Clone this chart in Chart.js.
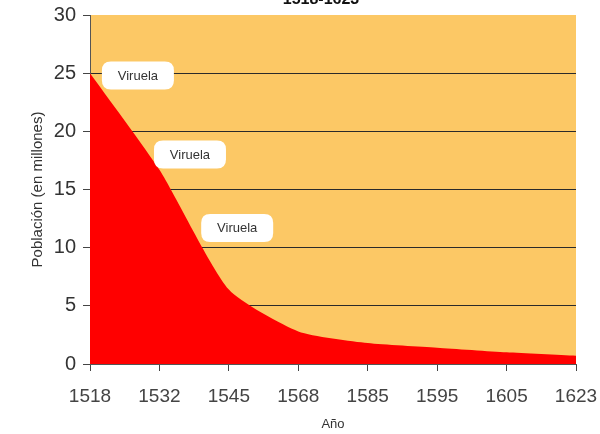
<!DOCTYPE html>
<html>
<head>
<meta charset="utf-8">
<script src="https://cdn.jsdelivr.net/npm/chart.js@4/dist/chart.umd.min.js"></script>
<style>
html,body{margin:0;padding:0;background:#fff;}
#wrap{width:600px;height:434px;position:relative;}
</style>
</head>
<body>
<div id="wrap"><canvas id="c" width="600" height="434"></canvas></div>
<script>
const years = ['1518','1532','1545','1568','1585','1595','1605','1623'];
const population = [25, 16.7, 6.4, 2.8, 1.8, 1.4, 1.0, 0.7];
const yTicks = [0, 5, 10, 15, 20, 25, 30];
const noteTexts = ['Viruela', 'Viruela', 'Viruela'];
const noteYearIndex = [0.69, 1.44, 2.12];
const noteValues = [24.8, 18.0, 11.7];
const titleText = '1518-1623';

const bgPlugin = {
  id: 'bg',
  beforeDraw(chart) {
    const {ctx, chartArea: a} = chart;
    ctx.save();
    ctx.fillStyle = '#FCC865';
    ctx.fillRect(a.left, a.top, a.right - a.left, a.bottom - a.top);
    ctx.restore();
  }
};

function roundRect(ctx, x, y, w, h, r) {
  ctx.beginPath();
  ctx.moveTo(x + r, y);
  ctx.lineTo(x + w - r, y);
  ctx.quadraticCurveTo(x + w, y, x + w, y + r);
  ctx.lineTo(x + w, y + h - r);
  ctx.quadraticCurveTo(x + w, y + h, x + w - r, y + h);
  ctx.lineTo(x + r, y + h);
  ctx.quadraticCurveTo(x, y + h, x, y + h - r);
  ctx.lineTo(x, y + r);
  ctx.quadraticCurveTo(x, y, x + r, y);
  ctx.closePath();
}

const notePlugin = {
  id: 'notes',
  afterDraw(chart) {
    const {ctx} = chart;
    const xs = chart.scales.x, ys = chart.scales.y;
    ctx.save();
    ctx.font = '13px "Liberation Sans", Arial, sans-serif';
    noteTexts.forEach((t, i) => {
      const p0 = xs.getPixelForValue(Math.floor(noteYearIndex[i]));
      const p1 = xs.getPixelForValue(Math.floor(noteYearIndex[i]) + 1);
      const cx = p0 + (p1 - p0) * (noteYearIndex[i] - Math.floor(noteYearIndex[i]));
      const cy = ys.getPixelForValue(noteValues[i]);
      const w = 72, h = 28;
      ctx.fillStyle = '#FFFFFF';
      roundRect(ctx, cx - w / 2, cy - h / 2, w, h, 9);
      ctx.fill();
      ctx.fillStyle = '#333333';
      ctx.textAlign = 'center';
      ctx.textBaseline = 'middle';
      ctx.fillText(t, cx, cy + 1);
    });
    // partially visible title at the very top
    ctx.font = 'bold 16px "Liberation Sans", Arial, sans-serif';
    ctx.fillStyle = '#111111';
    ctx.textAlign = 'center';
    ctx.textBaseline = 'alphabetic';
    ctx.fillText(titleText, (chart.chartArea.left + chart.chartArea.right) / 2 - 12, 4);
    ctx.restore();
  }
};

new Chart(document.getElementById('c'), {
  type: 'line',
  data: {
    labels: years,
    datasets: [{
      data: population,
      fill: 'origin',
      backgroundColor: '#FF0000',
      borderColor: '#FF0000',
      borderWidth: 0,
      pointRadius: 0,
      tension: 0.2
    }]
  },
  options: {
    responsive: false,
    animation: false,
    devicePixelRatio: 1,
    layout: {padding: {top: 15, right: 24, left: 0, bottom: 0}},
    plugins: {legend: {display: false}, tooltip: {enabled: false}, title: {display: false}},
    scales: {
      x: {
        type: 'category',
        offset: false,
        afterFit(s) { s.height = 70; s.paddingLeft = 0; s.paddingRight = 0; },
        border: {display: true, color: '#555555', width: 1},
        grid: {drawOnChartArea: false, drawTicks: true, tickLength: 7, tickColor: '#444444'},
        ticks: {
          color: '#444444',
          padding: 14,
          maxRotation: 0,
          autoSkip: false,
          font: {family: '"Liberation Sans Narrow", "Liberation Sans", sans-serif', size: 19}
        },
        title: {
          display: true,
          text: 'Año',
          color: '#333333',
          padding: {top: 0, bottom: 2},
          font: {family: '"Liberation Sans", Arial, sans-serif', size: 13}
        }
      },
      y: {
        min: 0,
        max: 30,
        afterFit(s) { s.width = 90; s.paddingTop = 0; s.paddingBottom = 0; },
        afterBuildTicks(s) { s.ticks = yTicks.map(v => ({value: v})); },
        border: {display: true, color: '#555555', width: 1},
        grid: {
          drawTicks: true,
          tickLength: 7,
          tickColor: '#444444',
          lineWidth: 1,
          color: ctx => (ctx.tick && (ctx.tick.value === 30 || ctx.tick.value === 0)) ? 'rgba(0,0,0,0)' : '#2A2A2A'
        },
        ticks: {
          color: '#333333',
          padding: 7,
          font: {family: '"Liberation Sans", Arial, sans-serif', size: 20}
        },
        title: {
          display: true,
          text: 'Población (en millones)',
          color: '#333333',
          padding: {top: 29, bottom: 0},
          font: {family: '"Liberation Sans", Arial, sans-serif', size: 15}
        }
      }
    }
  },
  plugins: [bgPlugin, notePlugin]
});
</script>
</body>
</html>
